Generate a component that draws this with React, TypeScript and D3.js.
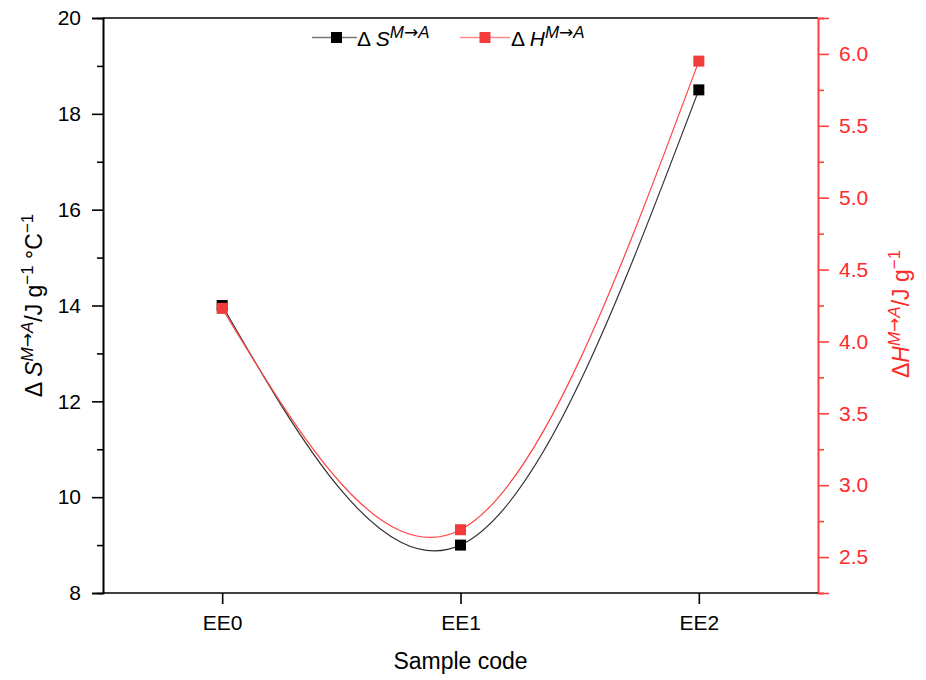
import React, { useEffect, useRef } from 'react'
import * as d3 from 'd3'

const samples = ["EE0", "EE1", "EE2"]
const entropy = [14.0, 9.0, 18.5]
const enthalpy = [4.23, 2.69, 5.95]
const leftTicks = [8, 10, 12, 14, 16, 18, 20]
const leftMinor = [9, 11, 13, 15, 17, 19]
const rightTicks = [2.5, 3.0, 3.5, 4.0, 4.5, 5.0, 5.5, 6.0]
const rightMinor = [2.25, 2.75, 3.25, 3.75, 4.25, 4.75, 5.25, 5.75, 6.25]

const W = 926
const H = 680
const left = 103, right = 818, top = 18, bottom = 593
const RED = "#ff2a2a"
const FONT = "'Liberation Sans', Arial, Helvetica, sans-serif"
const ARROW_FONT = "'DejaVu Sans', sans-serif"

// appends "M→A" as a raised superscript, then drops back to the baseline
function sup(t: any, size: number, raise: number) {
    t.append("tspan").attr("font-style", "italic").attr("font-size", size).attr("dy", -raise).text("M")
    t.append("tspan").attr("font-size", size).attr("font-family", ARROW_FONT).text("\u2192")
    t.append("tspan").attr("font-style", "italic").attr("font-size", size).text("A")
}

function App() {
    const ref = useRef<SVGSVGElement>(null)

    useEffect(() => {
        const svg = d3.select(ref.current)
        svg.selectAll("*").remove()

        const x = d3.scalePoint().domain(samples).range([left, right]).padding(0.5)
        const yL = d3.scaleLinear().domain([8, 20]).range([bottom, top])
        const yR = d3.scaleLinear().domain([2.25, 6.25]).range([bottom, top])

        // top border
        svg.append("line")
            .attr("x1", left).attr("x2", right).attr("y1", top).attr("y2", top)
            .attr("stroke", "#000").attr("stroke-width", 1.6)

        // left axis
        const gL = svg.append("g").attr("transform", "translate(" + left + ",0)")
        gL.call(d3.axisLeft(yL).tickValues(leftTicks).tickSize(11).tickPadding(11).tickFormat(d3.format("d")) as any)
        gL.append("g").call(d3.axisLeft(yL).tickValues(leftMinor).tickSize(6).tickFormat(() => "") as any)
        gL.selectAll("path,line").attr("stroke", "#000").attr("stroke-width", 1.6)
        gL.selectAll("text").attr("font-size", 21).attr("font-family", FONT).attr("fill", "#000")

        // right axis
        const gR = svg.append("g").attr("transform", "translate(" + right + ",0)")
        gR.call(d3.axisRight(yR).tickValues(rightTicks).tickSize(11).tickPadding(10).tickFormat(d3.format(".1f")) as any)
        gR.append("g").call(d3.axisRight(yR).tickValues(rightMinor).tickSize(6).tickFormat(() => "") as any)
        gR.selectAll("path,line").attr("stroke", "#ff4040").attr("stroke-width", 1.6)
        gR.selectAll("text").attr("font-size", 21).attr("font-family", FONT).attr("fill", RED)

        // bottom axis
        const gB = svg.append("g").attr("transform", "translate(0," + bottom + ")")
        gB.call(d3.axisBottom(x).tickSize(11).tickPadding(11) as any)
        gB.select(".domain").attr("d", "M" + left + ",0H" + right)
        gB.selectAll("path,line").attr("stroke", "#000").attr("stroke-width", 1.6)
        gB.selectAll("text").attr("font-size", 21).attr("font-family", FONT).attr("fill", "#000")

        // axis titles
        svg.append("text")
            .attr("x", (left + right) / 2).attr("y", 669)
            .attr("text-anchor", "middle")
            .attr("font-size", 23).attr("font-family", FONT)
            .text("Sample code")

        const tl = svg.append("text")
            .attr("transform", "translate(42," + ((top + bottom) / 2) + ") rotate(-90)")
            .attr("text-anchor", "middle")
            .attr("font-size", 23).attr("font-family", FONT).attr("fill", "#000")
        tl.append("tspan").text("\u0394 ")
        tl.append("tspan").attr("font-style", "italic").text("S")
        sup(tl, 17, 9)
        tl.append("tspan").attr("dy", 9).text("/J g")
        tl.append("tspan").attr("font-size", 17).attr("dy", -9).text("\u22121")
        tl.append("tspan").attr("dy", 9).text(" \u00b0C")
        tl.append("tspan").attr("font-size", 17).attr("dy", -9).text("\u22121")

        const tr = svg.append("text")
            .attr("transform", "translate(909,314) rotate(-90)")
            .attr("text-anchor", "middle")
            .attr("font-size", 23).attr("font-family", FONT).attr("fill", RED)
        tr.append("tspan").text("\u0394")
        tr.append("tspan").attr("font-style", "italic").text("H")
        sup(tr, 17, 9)
        tr.append("tspan").attr("dy", 9).text("/J g")
        tr.append("tspan").attr("font-size", 17).attr("dy", -9).text("\u22121")

        // curves
        const ptsS = samples.map((s, i) => [x(s) as number, yL(entropy[i])] as [number, number])
        const ptsH = samples.map((s, i) => [x(s) as number, yR(enthalpy[i])] as [number, number])
        const line = d3.line().curve(d3.curveNatural)

        svg.append("path").attr("d", line(ptsS)).attr("fill", "none")
            .attr("stroke", "#333").attr("stroke-width", 1.2)
        svg.append("path").attr("d", line(ptsH)).attr("fill", "none")
            .attr("stroke", "#ff4545").attr("stroke-width", 1.2)

        const sz = 11
        svg.selectAll("rect.s").data(ptsS).enter().append("rect")
            .attr("class", "s")
            .attr("x", d => d[0] - sz / 2).attr("y", d => d[1] - sz / 2)
            .attr("width", sz).attr("height", sz).attr("fill", "#000")
        svg.selectAll("rect.h").data(ptsH).enter().append("rect")
            .attr("class", "h")
            .attr("x", d => d[0] - sz / 2).attr("y", d => d[1] - sz / 2)
            .attr("width", sz).attr("height", sz).attr("fill", "#f23b3b")

        // legend
        const ly = 37.5
        svg.append("line").attr("x1", 312).attr("x2", 357).attr("y1", ly).attr("y2", ly)
            .attr("stroke", "#777").attr("stroke-width", 1.5)
        svg.append("rect").attr("x", 331).attr("y", ly - 5.5).attr("width", sz).attr("height", sz).attr("fill", "#000")
        const t1 = svg.append("text").attr("x", 357).attr("y", 46)
            .attr("font-size", 21).attr("font-family", FONT)
        t1.append("tspan").text("\u0394 ")
        t1.append("tspan").attr("font-style", "italic").text("S")
        sup(t1, 17, 8)

        svg.append("line").attr("x1", 460).attr("x2", 510).attr("y1", ly).attr("y2", ly)
            .attr("stroke", "#ff8a8a").attr("stroke-width", 1.5)
        svg.append("rect").attr("x", 479.5).attr("y", ly - 5.5).attr("width", sz).attr("height", sz).attr("fill", "#f23b3b")
        const t2 = svg.append("text").attr("x", 511).attr("y", 46)
            .attr("font-size", 21).attr("font-family", FONT)
        t2.append("tspan").text("\u0394 ")
        t2.append("tspan").attr("font-style", "italic").text("H")
        sup(t2, 17, 8)
    }, [])

    return (
        <div style={{ position: "absolute", left: 0, top: 0, width: W, height: H, background: "#fff" }}>
            <svg ref={ref} width={W} height={H} style={{ display: "block" }}></svg>
        </div>
    )
}

export default App
